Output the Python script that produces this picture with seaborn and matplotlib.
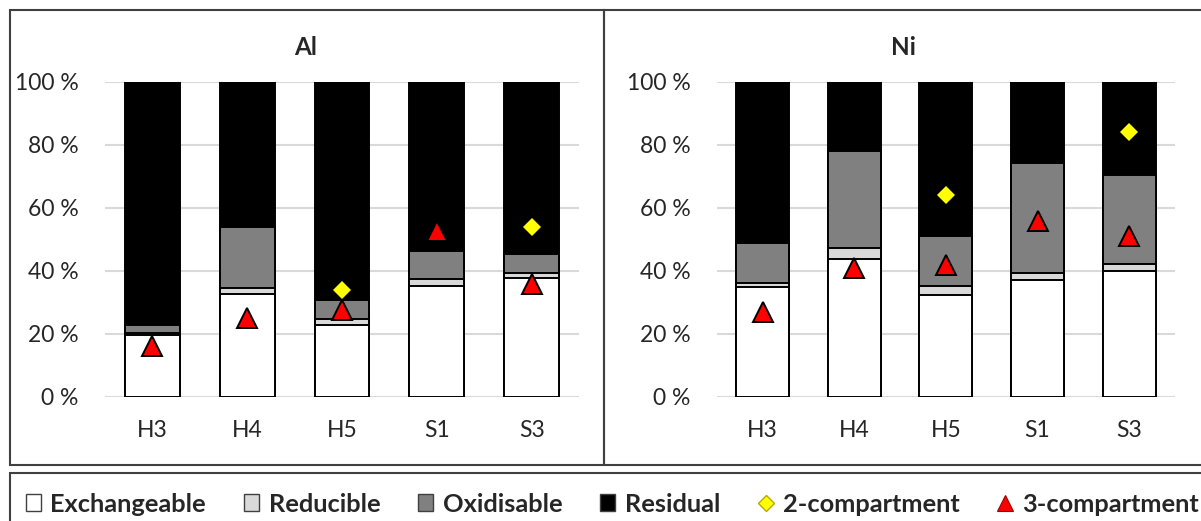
import numpy as np
import pandas as pd
import matplotlib
matplotlib.use("Agg")
import matplotlib.pyplot as plt
from matplotlib.patches import Patch, Rectangle
from matplotlib.lines import Line2D
import seaborn as sns

# ---- data (percent of total metal in each fraction) ----
samples = ["H3", "H4", "H5", "S1", "S3"]

al_exchangeable = [19.6, 32.5, 22.9, 35.1, 37.8]
al_reducible = [0.7, 1.9, 1.7, 2.2, 1.6]
al_oxidisable = [2.4, 19.6, 6.1, 9.0, 6.0]
al_residual = [77.3, 46.0, 69.3, 53.7, 54.6]
al_two_comp = [np.nan, np.nan, 33.9, np.nan, 54.0]
al_three_comp = [16.0, 25.0, 27.4, 52.6, 35.7]

ni_exchangeable = [34.9, 43.7, 32.3, 37.0, 39.9]
ni_reducible = [1.1, 3.4, 2.9, 2.4, 2.2]
ni_oxidisable = [12.7, 30.9, 15.9, 34.9, 28.3]
ni_residual = [51.3, 22.0, 48.9, 25.7, 29.6]
ni_two_comp = [np.nan, np.nan, 63.9, np.nan, 83.9]
ni_three_comp = [27.0, 40.9, 41.9, 55.9, 50.9]

y_ticks = [0, 20, 40, 60, 80, 100]
fraction_names = ["Exchangeable", "Reducible", "Oxidisable", "Residual"]
marker_names = ["2-compartment", "3-compartment"]

# ---- styling ----
sns.set_style("white")
plt.rcParams["font.family"] = ["Lato", "DejaVu Sans"]

fraction_colors = ["#ffffff", "#d9d9d9", "#808080", "#000000"]
diamond_color = "#ffff00"
triangle_color = "#ff0000"
border_color = "#404040"
grid_color = "#d9d9d9"
tick_size = 16.5

W, H = 1201, 521
fig = plt.figure(figsize=(W / 100, H / 100), dpi=100)
fig.patch.set_facecolor("white")


def axes_rect(left, right, top, bottom):
    return [left / W, 1 - bottom / H, (right - left) / W, (bottom - top) / H]


def draw_panel(ax, fractions, two_comp, three_comp):
    df = pd.DataFrame({"sample": samples})
    cumulative = np.cumsum(np.array(fractions, dtype=float), axis=0)
    # stack from the top layer down so each lower layer overlays the one above
    for level in range(len(fractions) - 1, -1, -1):
        df["top"] = cumulative[level]
        sns.barplot(data=df, x="sample", y="top", order=samples,
                    color=fraction_colors[level], saturation=1,
                    edgecolor="black", linewidth=1.4, width=0.58,
                    errorbar=None, ax=ax)
    pts = pd.DataFrame({"sample": samples, "two": two_comp, "three": three_comp})
    sns.pointplot(data=pts, x="sample", y="two", order=samples,
                  color=diamond_color, marker="D", markersize=9,
                  markeredgewidth=0, linestyle="none", errorbar=None, ax=ax)
    sns.pointplot(data=pts, x="sample", y="three", order=samples,
                  color=triangle_color, marker="^", markersize=15,
                  markeredgecolor="black", markeredgewidth=1.4,
                  linestyle="none", errorbar=None, ax=ax)
    ax.set_xlim(-0.5, len(samples) - 0.5)
    ax.set_ylim(0, 100)
    ax.set_yticks(y_ticks)
    ax.set_yticklabels([f"{v} %" for v in y_ticks])
    ax.set_xlabel("")
    ax.set_ylabel("")
    ax.set_axisbelow(True)
    ax.yaxis.grid(True, color=grid_color, linewidth=1.5)
    ax.xaxis.grid(False)
    for s in ax.spines.values():
        s.set_visible(False)
    ax.tick_params(axis="y", length=0, pad=19, labelsize=tick_size)
    ax.tick_params(axis="x", length=0, pad=17, labelsize=tick_size)
    ax.set_facecolor("none")


ax_al = fig.add_axes(axes_rect(105, 579, 81.7, 396.7))
ax_ni = fig.add_axes(axes_rect(716.7, 1175, 81.7, 396.7))

draw_panel(ax_al, [al_exchangeable, al_reducible, al_oxidisable, al_residual],
           al_two_comp, al_three_comp)
draw_panel(ax_ni, [ni_exchangeable, ni_reducible, ni_oxidisable, ni_residual],
           ni_two_comp, ni_three_comp)

fig.text(306 / W, 1 - 47 / H, "Al", ha="center", va="center",
         fontsize=17.5, fontweight="bold")
fig.text(903 / W, 1 - 47 / H, "Ni", ha="center", va="center",
         fontsize=17.5, fontweight="bold")

# panel frames and legend frame
def frame(x0, y0, x1, y1):
    fig.add_artist(Rectangle((x0 / W, 1 - y1 / H), (x1 - x0) / W, (y1 - y0) / H,
                             transform=fig.transFigure, fill=False,
                             edgecolor=border_color, linewidth=1.5, zorder=5))

frame(9.5, 10, 603.5, 465)
frame(603.5, 10, 1210, 465)
frame(9.5, 473, 1210, 530)

handles = [Patch(facecolor=c, edgecolor="#404040", linewidth=1.0)
           for c in fraction_colors]
handles.append(Line2D([], [], linestyle="none", marker="D", markersize=8,
                      markerfacecolor=diamond_color, markeredgecolor="#b8a800",
                      markeredgewidth=1.0))
handles.append(Line2D([], [], linestyle="none", marker="^", markersize=11,
                      markerfacecolor=triangle_color, markeredgecolor="#a00000",
                      markeredgewidth=0.8))

fig.legend(handles, fraction_names + marker_names, loc="center left",
           bbox_to_anchor=(26 / W, 1 - 504 / H), ncol=6, frameon=False,
           prop={"family": ["Lato", "DejaVu Sans"], "weight": "bold", "size": 18.3},
           handlelength=0.58, handleheight=0.6, handletextpad=0.38,
           columnspacing=1.5, borderpad=0, borderaxespad=0)

fig.savefig("out.png", dpi=100)
